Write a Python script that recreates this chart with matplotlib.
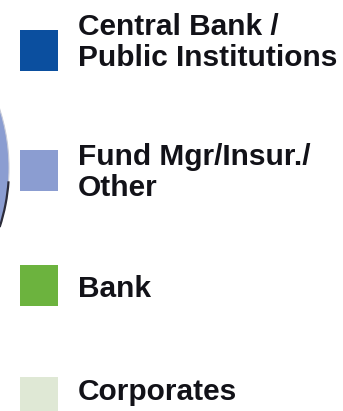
import matplotlib.pyplot as plt
from matplotlib.patches import Circle, Arc

# legend entries of the investor-type pie
labels = ['Central Bank /\nPublic Institutions', 'Fund Mgr/Insur./\nOther', 'Bank', 'Corporates']
colours = ['#0b4f9f', '#8b9dd1', '#6cb33e', '#dfe8d5']

W, H = 343, 411
fig = plt.figure(figsize=(W / 100, H / 100), dpi=100)
ax = fig.add_axes([0, 0, 1, 1])
ax.set_xlim(0, W)
ax.set_ylim(H, 0)
ax.axis('off')

# edge of the pie peeking in from the left
ax.add_patch(Circle((-182, 168), 191, facecolor=colours[1], edgecolor='#c8cbd8', lw=0.8))
ax.add_artist(Arc((-182, 168), 382, 382, theta1=4, theta2=18, color='#2b2b3a', lw=1.6))

# square tops and first text line centres (pixels)
sq_top = [30, 150, 265, 377]
txt_y = [23, 153, 285, 388]
for lab, col, st, ty in zip(labels, colours, sq_top, txt_y):
    ax.add_patch(plt.Rectangle((20, st), 38, 41, facecolor=col, edgecolor='none'))
    ax.text(78, ty - 10, lab, fontsize=21.5, fontweight='bold', family='Liberation Sans',
            color='#121218', va='top', ha='left', linespacing=1.14)

fig.savefig('out.png', dpi=100)
